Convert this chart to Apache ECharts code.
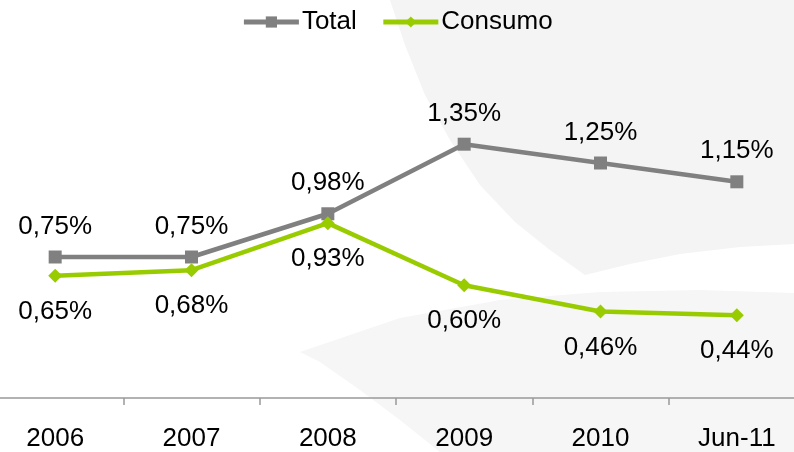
<!DOCTYPE html>
<html>
<head>
<meta charset="utf-8">
<script src="https://cdn.jsdelivr.net/npm/echarts@6/dist/echarts.min.js"></script>
<style>
  html, body { margin: 0; padding: 0; background: #fff; }
  #chart { width: 794px; height: 452px; }
</style>
</head>
<body>
<div id="chart"></div>
<script>
var categories = ['2006', '2007', '2008', '2009', '2010', 'Jun-11'];
var totalValues = [0.75, 0.75, 0.98, 1.35, 1.25, 1.15];
var consumoValues = [0.65, 0.68, 0.93, 0.60, 0.46, 0.44];

function pct(p) {
    return p.value.toFixed(2).replace('.', ',') + '%';
}

var myChart = echarts.init(document.getElementById('chart'));

var option = {
    backgroundColor: '#ffffff',
    textStyle: { fontFamily: 'Liberation Sans, Arial, sans-serif' },
    // faint background swirl
    graphic: [
        {
            type: 'polygon', z: -10, silent: true,
            shape: { points: [[390, 0], [405, 45], [425, 95], [450, 140], [480, 185], [515, 222], [550, 250], [585, 275],
                              [630, 264], [680, 254], [740, 247], [794, 244], [794, 0]] },
            style: { fill: '#f4f4f4' }
        },
        {
            type: 'polygon', z: -10, silent: true,
            shape: { points: [[300, 352], [400, 318], [500, 300], [600, 292], [700, 290], [794, 293],
                              [794, 452], [440, 452], [400, 420], [360, 390], [320, 362]] },
            style: { fill: '#f6f6f6' }
        }
    ],
    legend: {
        top: 4,
        left: 'center',
        itemWidth: 55,
        itemHeight: 14,
        itemGap: 24,
        textStyle: { fontSize: 26, color: '#000', padding: [0, 0, 0, -2] },
        lineStyle: { width: 5 },
        data: ['Total', 'Consumo']
    },
    grid: { left: -13, right: -11, top: 22, bottom: 54, outerBoundsMode: 'none', containLabel: false },
    xAxis: {
        type: 'category',
        data: categories,
        axisLine: { lineStyle: { color: '#999999', width: 1.5 } },
        axisTick: { show: true, lineStyle: { color: '#999999', width: 1.5 }, length: 7 },
        axisLabel: { fontSize: 26, color: '#000', margin: 28 }
    },
    yAxis: {
        type: 'value',
        min: 0,
        max: 2,
        show: false,
        splitLine: { show: false }
    },
    series: [
        {
            name: 'Total',
            type: 'line',
            data: totalValues,
            symbol: 'rect',
            symbolSize: 13,
            lineStyle: { color: '#808080', width: 4.5 },
            itemStyle: { color: '#808080' },
            label: { show: true, position: 'top', distance: 11, fontSize: 26, color: '#000', formatter: pct }
        },
        {
            name: 'Consumo',
            type: 'line',
            data: consumoValues,
            symbol: 'diamond',
            symbolSize: 14,
            lineStyle: { color: '#99cc00', width: 4.5 },
            itemStyle: { color: '#99cc00' },
            label: { show: true, position: 'bottom', distance: 16, fontSize: 26, color: '#000', formatter: pct }
        }
    ]
};

myChart.setOption(option);
</script>
</body>
</html>
